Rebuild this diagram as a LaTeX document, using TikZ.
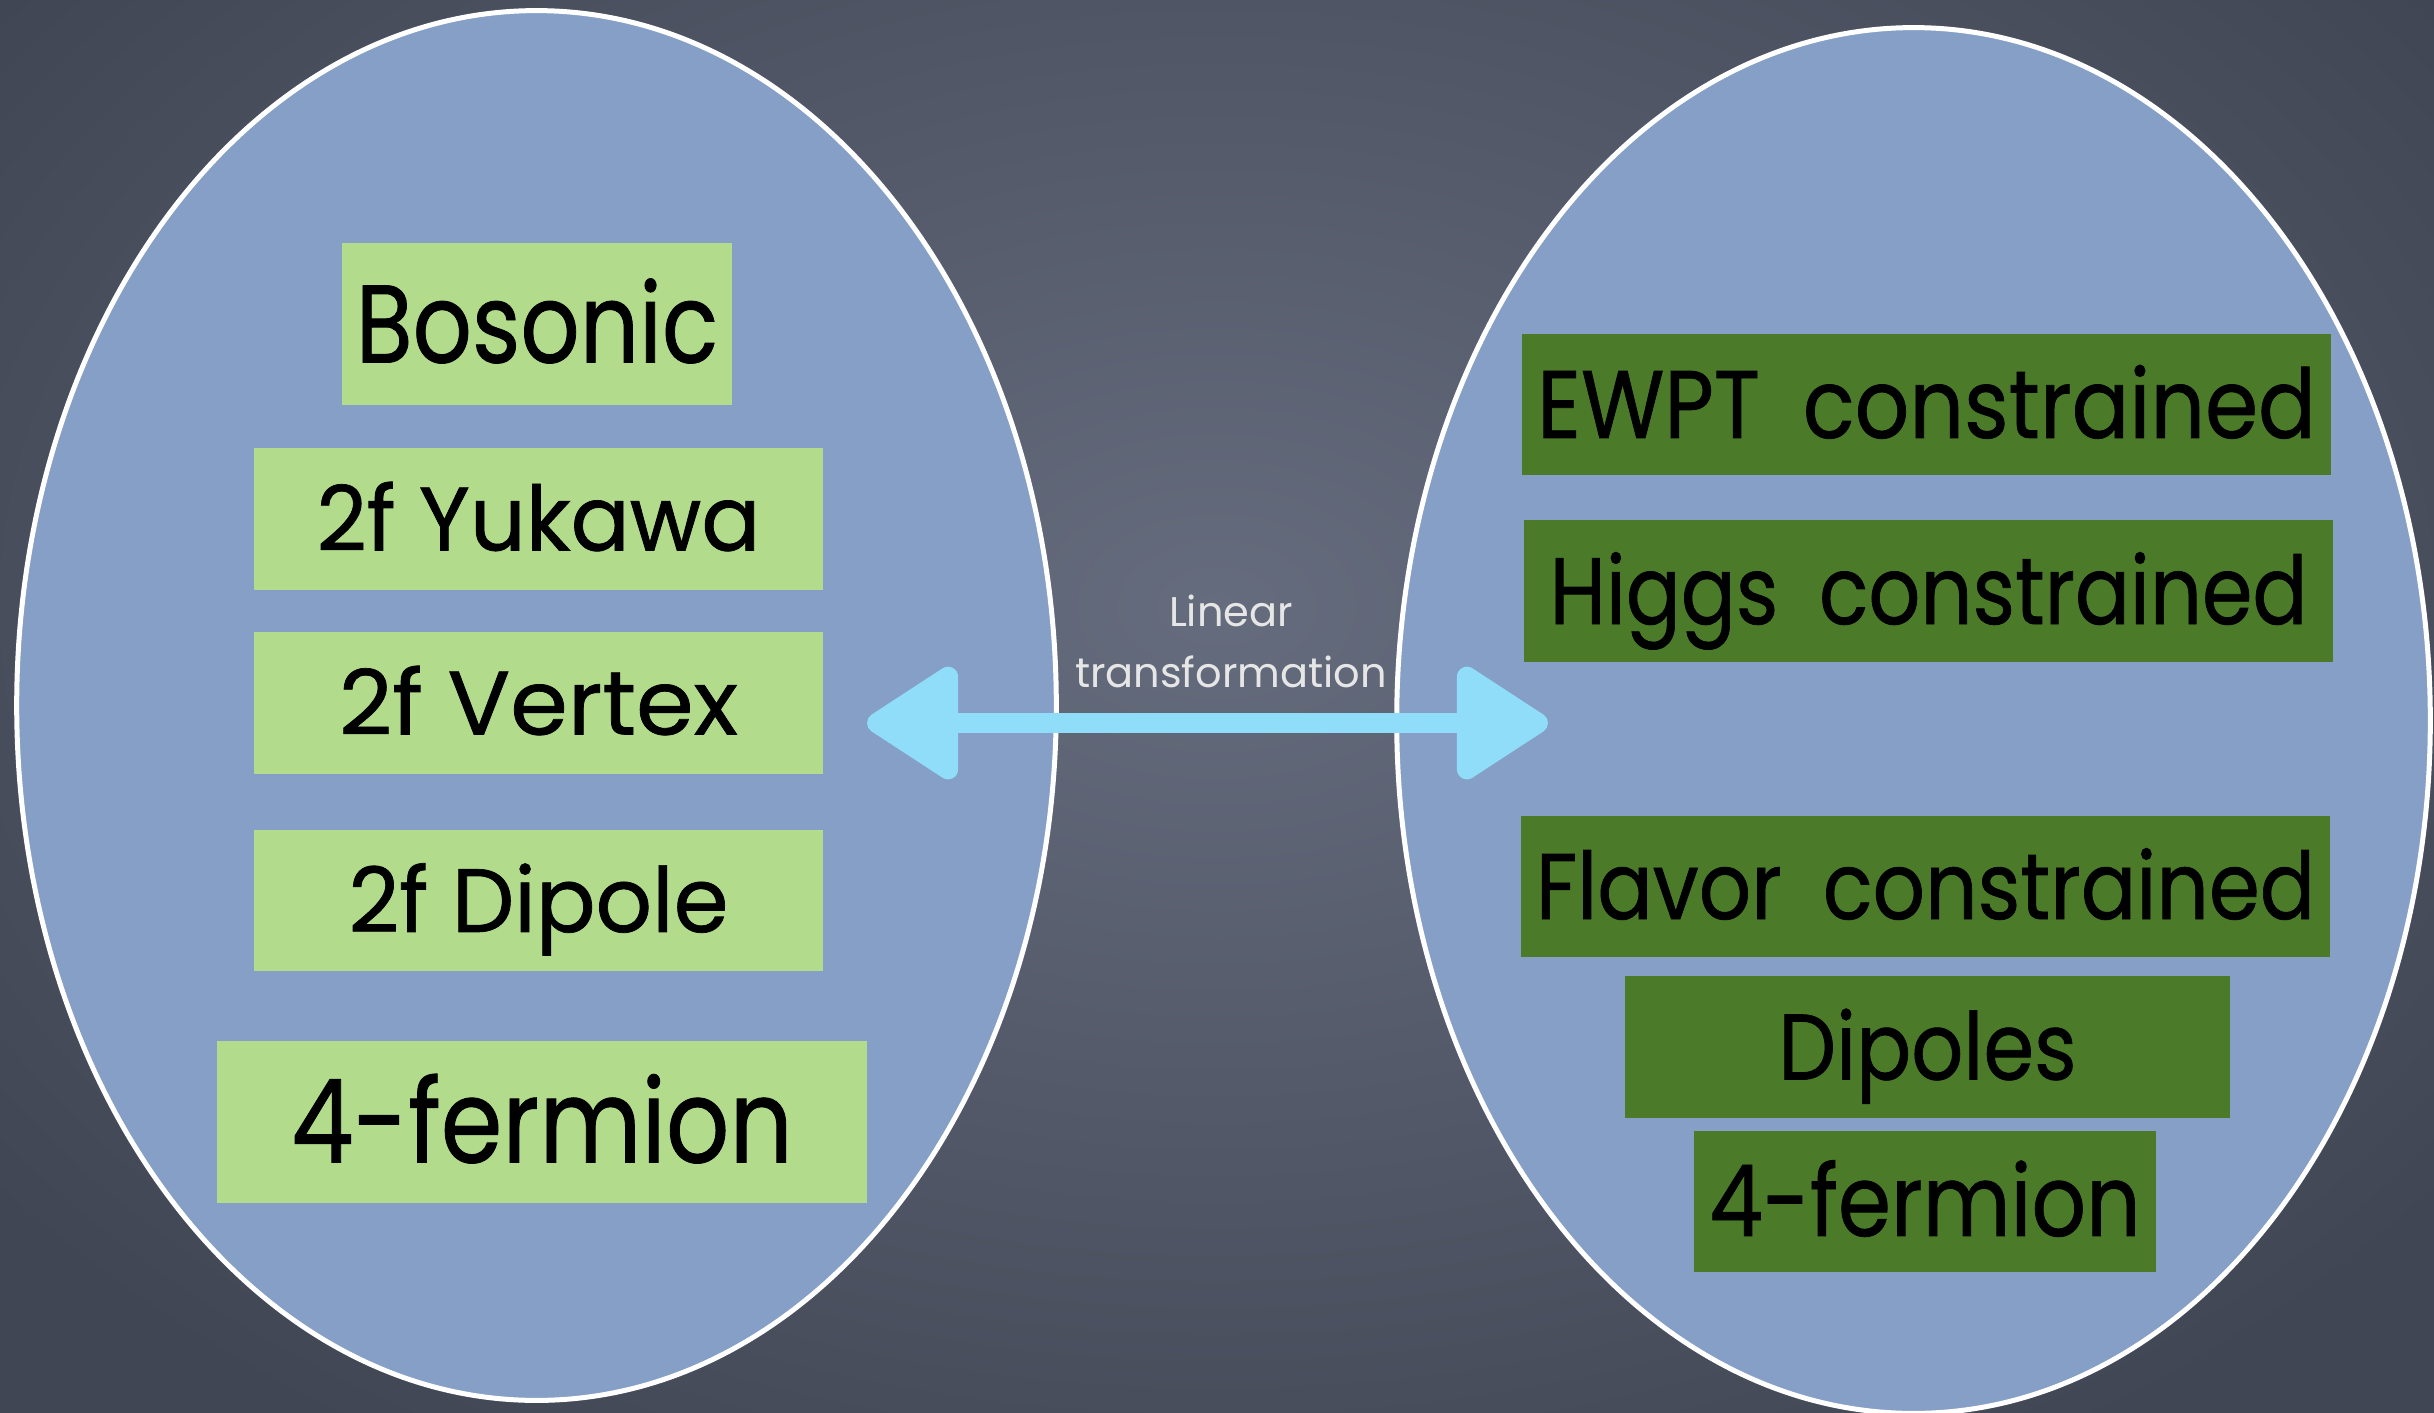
\documentclass[tikz,border=0pt]{standalone}
\usepackage{graphicx}
\usepackage{fontspec}
\setmainfont{Poppins}
\newfontfamily\chalk{Poppins}[FakeBold=0.8]
\usetikzlibrary{shapes.geometric,arrows.meta}
\definecolor{bgmid}{HTML}{656C7D}
\definecolor{bgedge}{HTML}{414654}
\definecolor{ellfill}{HTML}{869FC7}
\definecolor{lightgreen}{HTML}{B2DC8C}
\definecolor{darkgreen}{HTML}{4B7A29}
\definecolor{arrowcyan}{HTML}{8FDDF9}
\definecolor{labelwhite}{HTML}{E6E6E6}
\newcommand{\hsc}[2]{\scalebox{#1}[1]{#2}}
\tikzset{
  oval/.style={ellipse, draw=white, line width=0.5mm, fill=ellfill, inner sep=0pt},
  lbox/.style={fill=lightgreen, inner sep=0pt, text=black},
  rbox/.style={fill=darkgreen, inner sep=0pt, text=black},
  twoway/.style={draw=arrowcyan, line width=2mm,
    {Triangle[length=10mm,width=12.4mm,round]}-{Triangle[length=10mm,width=12.4mm,round]}},
  caption/.style={text=labelwhite, align=center, font=\fontsize{11.8pt}{17.4pt}\selectfont}
}
\begin{document}
\begin{tikzpicture}[x=0.01cm,y=-0.01cm]
\useasboundingbox (0,0) rectangle (2434,1412);
\clip (0,0) rectangle (2434,1412);
\shade[inner color=bgmid, outer color=bgedge] (-300,-400) rectangle (2734,1612);
% ellipses
\node[oval, minimum width=10.39cm, minimum height=13.89cm] (left) at (536.5,705.5) {};
\node[oval, minimum width=10.33cm, minimum height=13.85cm] (right) at (1913.5,720.5) {};
% left boxes
\node[lbox, minimum width=3.90cm, minimum height=1.62cm, text height=21.9pt, text depth=0pt,
  font=\chalk\fontsize{31.4pt}{36pt}\selectfont] (boson) at (537,324) {\hsc{0.84}{Bosonic}};
\node[lbox, minimum width=5.69cm, minimum height=1.42cm, text height=17.9pt, text depth=0pt,
  font=\chalk\fontsize{25.6pt}{30pt}\selectfont] (yuk) at (538.5,519) {\hsc{0.97}{2f Yukawa}};
\node[lbox, minimum width=5.69cm, minimum height=1.42cm, text height=17.9pt, text depth=0pt,
  font=\chalk\fontsize{25.6pt}{30pt}\selectfont] (vert) at (538.5,703) {\hsc{1.03}{2f Vertex}};
\node[lbox, minimum width=5.69cm, minimum height=1.41cm, text height=17.9pt, text depth=0pt,
  font=\chalk\fontsize{25.6pt}{30pt}\selectfont] (dip) at (538.5,900.5) {\hsc{0.98}{2f Dipole}};
\node[lbox, minimum width=6.50cm, minimum height=1.62cm, text height=23pt, text depth=0pt,
  font=\chalk\fontsize{33pt}{38pt}\selectfont] (fourL) at (542,1122) {\hsc{0.855}{4-fermion}};
% right boxes
\node[rbox, minimum width=8.09cm, minimum height=1.41cm, text height=19pt, text depth=0pt,
  font=\chalk\fontsize{27.3pt}{32pt}\selectfont] (ewpt) at (1926.5,404.5) {\hsc{0.89}{EWPT\hspace{0.5em}constrained}};
\node[rbox, minimum width=8.09cm, minimum height=1.42cm, text height=18.8pt, text depth=0pt,
  font=\chalk\fontsize{26.9pt}{32pt}\selectfont] (higgs) at (1928.5,591) {\hsc{0.86}{Higgs\hspace{0.5em}constrained}};
\node[rbox, minimum width=8.09cm, minimum height=1.41cm, text height=18.5pt, text depth=0pt,
  font=\chalk\fontsize{26.5pt}{32pt}\selectfont] (flav) at (1925.5,886.5) {\hsc{0.88}{Flavor\hspace{0.5em}constrained}};
\node[rbox, minimum width=6.05cm, minimum height=1.42cm, text height=18.5pt, text depth=0pt,
  font=\chalk\fontsize{26.5pt}{32pt}\selectfont] (dipoles) at (1927.5,1047) {\hsc{0.875}{Dipoles}};
\node[rbox, minimum width=4.62cm, minimum height=1.41cm, text height=19.6pt, text depth=0pt,
  font=\chalk\fontsize{28.2pt}{32pt}\selectfont] (fourR) at (1925,1201.5) {\hsc{0.86}{4-fermion}};
% connector
\coordinate (tipL) at (867,723);
\coordinate (tipR) at (1548,723);
\draw[twoway] (tipL) -- (tipR);
\node[caption] (lin) at (1231,641) {Linear\\transformation};
\end{tikzpicture}
\end{document}
